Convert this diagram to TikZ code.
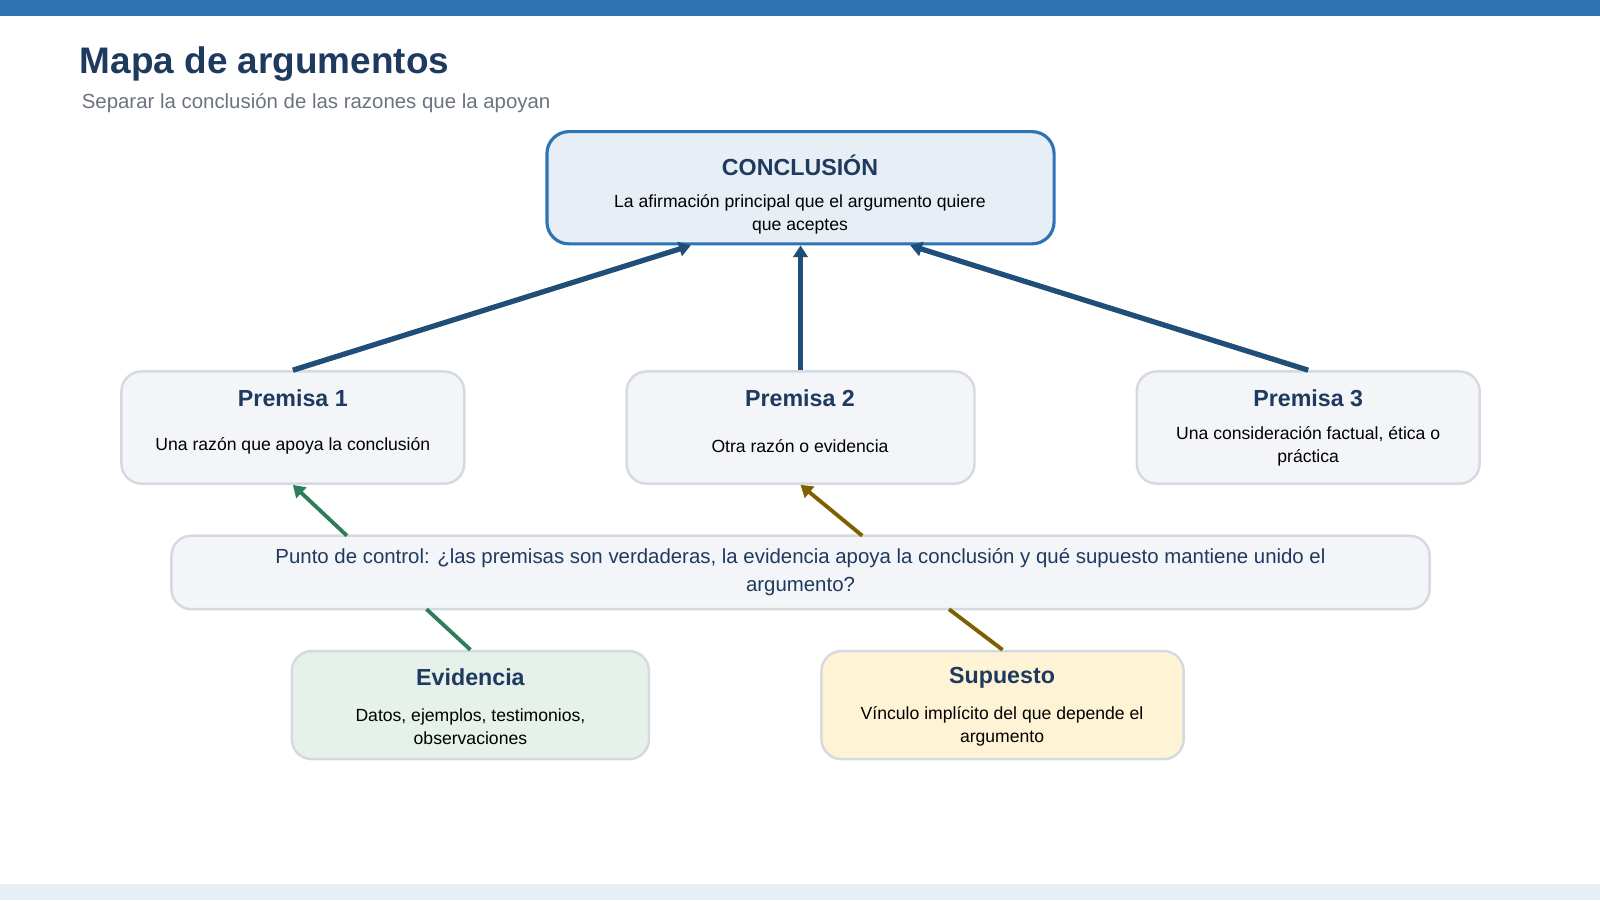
\documentclass[tikz,border=0pt]{standalone}
\usepackage{fontspec}
\setmainfont{Liberation Sans}
\usetikzlibrary{arrows.meta, positioning, calc}
\definecolor{barBlue}{HTML}{2E74B5}
\definecolor{paleBlue}{HTML}{E8EEF6}
\definecolor{titleBlue}{HTML}{1F3A5F}
\definecolor{arrowBlue}{HTML}{1F4E79}
\definecolor{greyText}{HTML}{6B7280}
\definecolor{boxGrey}{HTML}{F3F5F9}
\definecolor{edgeGrey}{HTML}{D5D9E0}
\definecolor{evGreen}{HTML}{E6F1EA}
\definecolor{lineGreen}{HTML}{2E7D5B}
\definecolor{supYellow}{HTML}{FFF3D6}
\definecolor{lineBrown}{HTML}{7F6000}
\tikzset{
    % Boxes
    premBox/.style={rectangle, rounded corners=5mm*0.4, fill=boxGrey, draw=edgeGrey, line width=0.7pt,
        minimum width=#1*0.0102cm, minimum height=110*0.0102cm, align=center, inner sep=0pt},
    boxHead/.style={font=\bfseries\fontsize{6.6}{8}\selectfont, text=titleBlue},
    boxBody/.style={font=\fontsize{5}{7}\selectfont, text=black},
    % Connectors
    arrowMain/.style={-{Triangle[width=3.2mm*0.45, length=2.6mm*0.45]}, line width=1.5pt, draw=arrowBlue},
    arrowGreen/.style={-{Triangle[width=3.2mm*0.45, length=2.6mm*0.45]}, line width=1.1pt, draw=lineGreen},
    arrowBrown/.style={-{Triangle[width=3.2mm*0.45, length=2.6mm*0.45]}, line width=1.1pt, draw=lineBrown}
}
\begin{document}
\begin{tikzpicture}[x=0.0102cm, y=-0.0102cm]
    % Frame
    \useasboundingbox (0,0) rectangle (1568,882);
    \fill[barBlue] (0,0) rectangle (1568,16);
    \fill[paleBlue] (0,866) rectangle (1568,882);
    \node[anchor=west, font=\bfseries\fontsize{10.5}{12}\selectfont, text=titleBlue] (title) at (66,63) {Mapa de argumentos};
    \node[anchor=west, font=\fontsize{5.8}{7}\selectfont, text=greyText] (sub) at (68,101) {Separar la conclusión de las razones que la apoyan};

    % Conclusion
    \node[rectangle, rounded corners=2.2mm, fill=paleBlue, draw=barBlue, line width=0.9pt,
        minimum width=497*0.0102cm, minimum height=110*0.0102cm] (concl) at (784.5,184) {};
    \node[boxHead] at (784,162) {CONCLUSIÓN};
    \node[boxBody, align=center] at (784,210) {La afirmación principal que el argumento quiere\\[-0.5pt]que aceptes};

    % Premises
    \node[premBox=336] (p1) at (287,419) {};
    \node[premBox=341] (p2) at (784.5,419) {};
    \node[premBox=336] (p3) at (1282,419) {};
    \node[boxHead] at (287,390) {Premisa 1};
    \node[boxBody] at (287,437) {Una razón que apoya la conclusión};
    \node[boxHead] at (784,390) {Premisa 2};
    \node[boxBody] at (784,437) {Otra razón o evidencia};
    \node[boxHead] at (1282,390) {Premisa 3};
    \node[boxBody, align=center] at (1282,437) {Una consideración factual, ética o\\[-0.5pt]práctica};

    % Checkpoint
    \node[premBox=1233, minimum height=72*0.0102cm, text=titleBlue, font=\fontsize{5.8}{8}\selectfont] (check) at (784.5,561)
        {Punto de control: ¿las premisas son verdaderas, la evidencia apoya la conclusión y qué supuesto mantiene unido el\\argumento?};

    % Support
    \node[premBox=350, minimum height=106*0.0102cm, fill=evGreen] (ev) at (461,691) {};
    \node[premBox=355, minimum height=106*0.0102cm, fill=supYellow] (sup) at (982.5,691) {};
    \node[boxHead] at (461,664) {Evidencia};
    \node[boxBody, align=center] at (461,712) {Datos, ejemplos, testimonios,\\[-0.5pt]observaciones};
    \node[boxHead] at (982,664) {Supuesto};
    \node[boxBody, align=center] at (982,712) {Vínculo implícito del que depende el\\[-0.5pt]argumento};

    % Connectors
    \draw[arrowMain] (p1.north) -- ($(concl.south)!0.43!(concl.south west)$);
    \draw[arrowMain] (p2.north) -- (concl.south);
    \draw[arrowMain] (p3.north) -- ($(concl.south)!0.43!(concl.south east)$);
    \coordinate (cpA) at (340,525);
    \coordinate (cpB) at (418,597);
    \coordinate (cpC) at (845,525);
    \coordinate (cpD) at (930,597);
    \draw[arrowGreen] (cpA) -- (p1.south);
    \draw[lineGreen, line width=1.1pt] (ev.north) -- (cpB);
    \draw[arrowBrown] (cpC) -- (p2.south);
    \draw[lineBrown, line width=1.1pt] (sup.north) -- (cpD);
\end{tikzpicture}
\end{document}
